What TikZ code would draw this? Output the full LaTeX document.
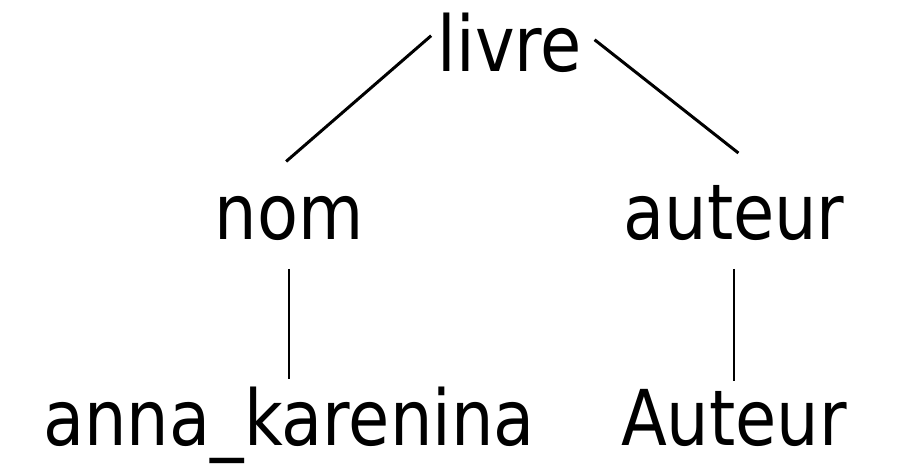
\documentclass[tikz,border=0pt]{standalone}
\usepackage{fontspec}
\setmainfont[FakeStretch=0.87]{DejaVu Sans}
\begin{document}
\begin{tikzpicture}[x=0.01cm,y=-0.01cm]

      \useasboundingbox (0,0) rectangle (899,464);

      \begin{scope}[every node/.style={inner sep=0pt, anchor=base, font=\fontsize{21.9pt}{24pt}\selectfont}]
        \node (livre)  at (510,72)  {livre};
        \node (nom)    at (289,240) {nom};
        \node (auteur) at (734,240) {auteur};
        \node (anna)   at (289,446) {anna\_karenina};
        \node (Auteur) at (734,446) {Auteur};
      \end{scope}

      \begin{scope}[line width=0.85pt]
        \draw[shorten <=0.08cm, shorten >=0.53cm] (livre.170) -- (nom.152);
        \draw[shorten <=0.15cm, shorten >=0.52cm] (livre.10) -- (auteur.32);
        \draw[shorten <=0.27cm, shorten >=0.08cm] (nom.south) -- (anna.north -| nom.south);
        \draw[shorten <=0.27cm, shorten >=0.08cm] (auteur.south) -- (Auteur.north);
      \end{scope}

    \end{tikzpicture}
\end{document}
